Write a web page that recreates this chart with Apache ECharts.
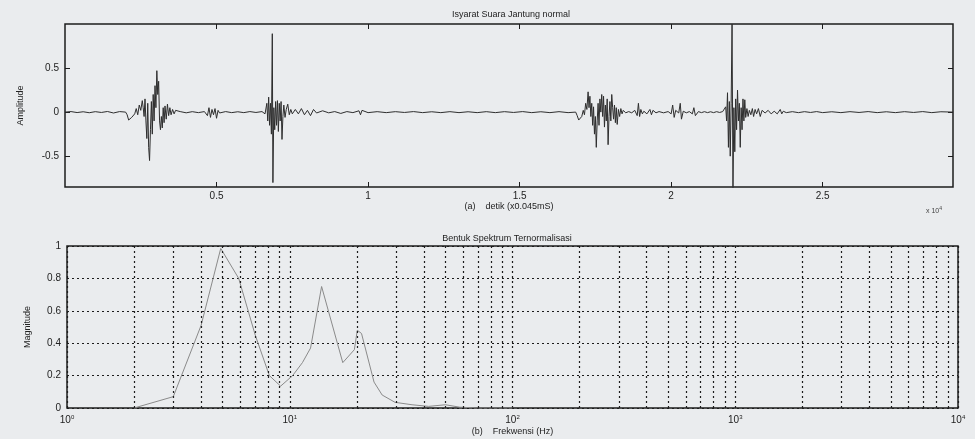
<!DOCTYPE html>
<html><head><meta charset="utf-8">
<script src="https://cdn.jsdelivr.net/npm/echarts@6/dist/echarts.min.js"></script>
<style>html,body{margin:0;padding:0;background:#eaecee}#c{width:975px;height:439px}</style>
</head><body><div id="c"></div>
<script>
const topTitle = 'Isyarat Suara Jantung normal';
const bottomTitle = 'Bentuk Spektrum Ternormalisasi';
const topXName = '(a)    detik (x0.045mS)';
const bottomXName = '(b)    Frekwensi (Hz)';
const topYName = 'Amplitude';
const bottomYName = 'Magnitude';
const topTicksX = [0.5, 1, 1.5, 2, 2.5];
const topTicksY = [-0.5, 0, 0.5];

// time (x10^4 samples), amplitude
const signal = [
 [0,0],[0.02,0.006],[0.04,-0.005],[0.06,0.004],[0.08,-0.007],[0.10,0.005],[0.12,-0.004],[0.14,0.007],[0.16,-0.01],[0.18,0.006],[0.20,0],
 [0.205,-0.03],[0.21,-0.09],[0.215,-0.11],[0.22,-0.06],[0.225,-0.08],[0.23,-0.02],[0.235,0.04],[0.24,-0.03],[0.245,0.08],[0.25,0.02],[0.255,0.13],[0.258,0.05],[0.261,-0.05],[0.264,0.15],[0.267,-0.1],[0.27,-0.3],[0.273,0.1],[0.276,-0.4],[0.279,-0.55],[0.282,-0.2],[0.285,0.12],[0.288,-0.25],[0.291,0.2],[0.294,-0.1],[0.297,0.3],[0.3,0.05],[0.303,0.47],[0.306,0.2],[0.309,0.35],[0.312,-0.1],[0.315,-0.2],[0.318,-0.05],[0.321,-0.18],[0.324,0.05],[0.327,-0.12],[0.33,0.07],[0.334,-0.08],[0.338,0.09],[0.342,-0.04],[0.346,0.05],[0.35,-0.03],[0.355,0.03],[0.36,-0.02],[0.365,0.02],[0.37,0],
 [0.38,0.006],[0.40,-0.008],[0.42,0.005],[0.44,-0.006],[0.46,0.006],[0.47,-0.04],[0.475,0.05],[0.48,-0.06],[0.485,0.03],[0.49,-0.03],[0.495,0.04],[0.50,-0.07],[0.505,0.02],[0.51,-0.01],[0.53,0.006],[0.55,-0.006],[0.57,0.004],[0.59,-0.006],[0.61,0.006],[0.63,-0.004],[0.65,0.006],[0.66,-0.02],
 [0.666,0.1],[0.669,-0.1],[0.672,0.17],[0.675,-0.15],[0.678,0.1],[0.681,-0.25],[0.684,0.89],[0.686,-0.8],[0.689,0.05],[0.692,-0.2],[0.695,0.12],[0.698,-0.15],[0.701,0.13],[0.704,-0.22],[0.707,0.1],[0.71,-0.1],[0.713,0.12],[0.716,-0.31],[0.719,-0.05],[0.722,0.08],[0.726,-0.06],[0.73,0.03],[0.735,0.09],[0.74,-0.03],[0.745,0.03],[0.75,-0.02],
 [0.76,0.03],[0.77,-0.02],[0.78,0.04],[0.79,-0.03],[0.80,0.02],[0.81,-0.04],[0.82,0.03],[0.83,-0.01],[0.85,0.015],[0.87,-0.008],[0.89,0.006],[0.91,-0.015],[0.93,0.006],[0.95,-0.006],[0.97,0.015],[0.975,-0.03],[0.98,0.02],[1.00,-0.006],[1.03,0.005],[1.06,-0.006],[1.09,0.005],[1.12,-0.004],[1.15,0.006],[1.18,-0.006],[1.21,0.004],[1.24,-0.006],[1.27,0.005],[1.30,-0.006],[1.33,0.004],[1.36,-0.006],[1.39,0.005],[1.42,-0.006],[1.45,0.005],[1.48,-0.004],[1.51,0.006],[1.54,-0.006],[1.57,0.004],[1.60,-0.006],[1.63,0.005],[1.66,-0.006],[1.685,0],
 [1.69,-0.04],[1.695,-0.09],[1.70,-0.1],[1.705,-0.05],[1.71,0.02],[1.714,-0.03],[1.718,0.1],[1.722,0.03],[1.726,0.23],[1.729,0.05],[1.732,0.18],[1.735,-0.05],[1.738,0.1],[1.741,-0.15],[1.744,0.06],[1.747,-0.25],[1.75,-0.05],[1.753,-0.4],[1.756,-0.1],[1.759,0.1],[1.762,-0.15],[1.765,0.15],[1.768,0],[1.771,0.2],[1.774,-0.05],[1.777,0.18],[1.78,-0.17],[1.783,0.08],[1.786,-0.1],[1.789,0.15],[1.792,-0.37],[1.795,-0.05],[1.798,0.12],[1.801,-0.1],[1.804,0.2],[1.807,0.05],[1.81,-0.08],[1.813,0.08],[1.816,-0.12],[1.819,0.05],[1.822,-0.14],[1.826,0.03],[1.83,-0.05],[1.834,0.04],[1.838,-0.02],[1.842,0.02],
 [1.85,-0.008],[1.86,0.006],[1.87,-0.008],[1.88,0.02],[1.888,-0.04],[1.892,0.1],[1.896,-0.05],[1.90,0.03],[1.905,-0.02],[1.91,0.01],[1.92,-0.02],[1.93,0.03],[1.935,-0.03],[1.94,0.02],[1.95,-0.008],[1.96,0.006],[1.975,-0.008],[1.99,0.006],[2.0,-0.02],[2.005,0.08],[2.01,-0.06],[2.015,0.02],[2.025,-0.01],[2.03,0.1],[2.034,-0.08],[2.04,0.01],[2.05,-0.008],[2.06,0.006],[2.07,-0.02],[2.075,0.05],[2.08,-0.04],[2.09,0.006],[2.10,-0.006],[2.11,0.005],[2.12,-0.006],[2.13,0.004],[2.14,-0.006],[2.15,0.005],[2.16,-0.004],[2.17,0.006],
 [2.176,0],[2.18,0.06],[2.183,-0.1],[2.186,0.22],[2.189,-0.4],[2.192,0.12],[2.195,-0.5],[2.198,0.1],[2.201,1.0],[2.204,-0.9],[2.207,0.05],[2.21,-0.45],[2.213,0.15],[2.216,-0.2],[2.219,0.25],[2.222,-0.1],[2.225,0.1],[2.228,-0.4],[2.231,0.05],[2.234,-0.2],[2.237,0.15],[2.24,-0.1],[2.243,0.14],[2.246,-0.06],[2.25,0.04],[2.254,-0.05],[2.258,0.02],[2.263,-0.03],[2.268,0.04],[2.272,-0.05],[2.277,0.03],[2.282,-0.02],[2.288,0.04],[2.294,-0.05],[2.30,0.02],
 [2.31,-0.01],[2.32,0.02],[2.33,-0.02],[2.34,0.01],[2.35,-0.02],[2.36,0.03],[2.365,-0.02],[2.37,0.01],[2.38,-0.006],[2.40,0.005],[2.42,-0.006],[2.44,0.005],[2.46,-0.004],[2.48,0.006],[2.50,-0.006],[2.53,0.004],[2.56,-0.006],[2.59,0.005],[2.62,-0.004],[2.65,0.006],[2.68,-0.006],[2.71,0.004],[2.74,-0.006],[2.77,0.005],[2.80,-0.004],[2.83,0.006],[2.86,-0.006],[2.89,0.004],[2.93,0]
];

const freqHz =    [2, 3,    4,    4.9,   5.9, 7,    8.1, 9.1,   10.3, 11.4, 12.4, 13.9, 17.3, 19.5, 20.1, 21,   23.9, 26,   29.7,  35.4, 42,   50,   58,    70, 100];
const magnitude = [0, 0.07, 0.51, 0.985, 0.8, 0.45, 0.2, 0.135, 0.2,  0.28, 0.37, 0.75, 0.28, 0.36, 0.48, 0.46, 0.16, 0.08, 0.035, 0.02, 0.01, 0.02, 0.005, 0,  0];

const minorGrid = [];
[1, 10, 100, 1000].forEach(d => { for (let k = 2; k <= 9; k++) minorGrid.push(k * d); });

const ink = '#1c1c1c';
const font = 'Liberation Sans, Arial, sans-serif';
const gridDot = { type: [2, 3], color: ink, width: 1.2 };
const noLine = { show: false, onZero: false };

const chart = echarts.init(document.getElementById('c'));
chart.setOption({
  animation: false,
  backgroundColor: '#eaecee',
  textStyle: { fontFamily: font },
  title: [
    { text: topTitle, left: 506, top: 5, textAlign: 'center', textStyle: { fontSize: 9, fontWeight: 'normal', color: '#222', fontFamily: font } },
    { text: bottomTitle, left: 502, top: 229, textAlign: 'center', textStyle: { fontSize: 9, fontWeight: 'normal', color: '#222', fontFamily: font } }
  ],
  grid: [
    { left: 65, top: 24, width: 888, height: 163, show: true, borderColor: ink, borderWidth: 1.5, backgroundColor: 'transparent' },
    { left: 67, top: 246, width: 891, height: 162, show: true, borderColor: ink, borderWidth: 1.5, backgroundColor: 'transparent' }
  ],
  xAxis: [
    { gridIndex: 0, type: 'value', min: 0, max: 2.93,
      axisLine: noLine,
      axisTick: { inside: true, length: 5, customValues: topTicksX, lineStyle: { color: ink } },
      axisLabel: { customValues: topTicksX, color: '#222', fontSize: 10, margin: 4 },
      splitLine: { show: false },
      name: topXName, nameLocation: 'middle', nameGap: 13, nameTextStyle: { fontSize: 9, color: '#222' } },
    { gridIndex: 0, type: 'value', position: 'top', min: 0, max: 2.93,
      axisLine: noLine,
      axisTick: { inside: true, length: 5, customValues: topTicksX, lineStyle: { color: ink } },
      axisLabel: { show: false }, splitLine: { show: false } },
    { gridIndex: 1, type: 'log', logBase: 10, min: 1, max: 10000,
      axisLine: noLine, axisTick: { show: false },
      axisLabel: { margin: 6, color: '#222', showMinLabel: true, showMaxLabel: true,
        formatter: v => '{b|10}{s|' + Math.round(Math.log10(v)) + '}',
        rich: { b: { fontSize: 10, color: '#222' }, s: { fontSize: 6, color: '#222', padding: [0, 0, 7, 0] } } },
      splitLine: { show: true, lineStyle: gridDot },
      name: bottomXName, nameLocation: 'middle', nameGap: 19, nameTextStyle: { fontSize: 9, color: '#222' } }
  ],
  yAxis: [
    { gridIndex: 0, type: 'value', min: -0.85, max: 1,
      axisLine: noLine,
      axisTick: { inside: true, length: 5, customValues: topTicksY, lineStyle: { color: ink } },
      axisLabel: { customValues: topTicksY, color: '#222', fontSize: 10, margin: 6 },
      splitLine: { show: false },
      name: topYName, nameLocation: 'middle', nameGap: 40, nameTextStyle: { fontSize: 9, color: '#222' } },
    { gridIndex: 0, type: 'value', position: 'right', min: -0.85, max: 1,
      axisLine: noLine,
      axisTick: { inside: true, length: 5, customValues: topTicksY, lineStyle: { color: ink } },
      axisLabel: { show: false }, splitLine: { show: false } },
    { gridIndex: 1, type: 'value', min: 0, max: 1, interval: 0.2,
      axisLine: noLine, axisTick: { show: false },
      axisLabel: { color: '#222', fontSize: 10, margin: 6 },
      splitLine: { show: true, lineStyle: gridDot },
      name: bottomYName, nameLocation: 'middle', nameGap: 35, nameTextStyle: { fontSize: 9, color: '#222' } }
  ],
  graphic: [
    { type: 'text', left: 926, top: 206, style: { text: '{b|x 10}{s|4}', rich: { b: { fontSize: 7, fill: '#444' }, s: { fontSize: 5, fill: '#444', padding: [0, 0, 5, 0] } } } }
  ],
  series: [
    { type: 'line', xAxisIndex: 0, yAxisIndex: 0, data: signal, showSymbol: false, clip: true,
      lineStyle: { color: '#2e2e2e', width: 1 } },
    { type: 'line', xAxisIndex: 2, yAxisIndex: 2, data: freqHz.map((f, i) => [f, magnitude[i]]), showSymbol: false,
      lineStyle: { color: '#8a8a8a', width: 1 },
      markLine: { silent: true, symbol: ['none', 'none'], label: { show: false }, lineStyle: gridDot,
        data: minorGrid.map(v => ({ xAxis: v })) } }
  ]
});
</script></body></html>
